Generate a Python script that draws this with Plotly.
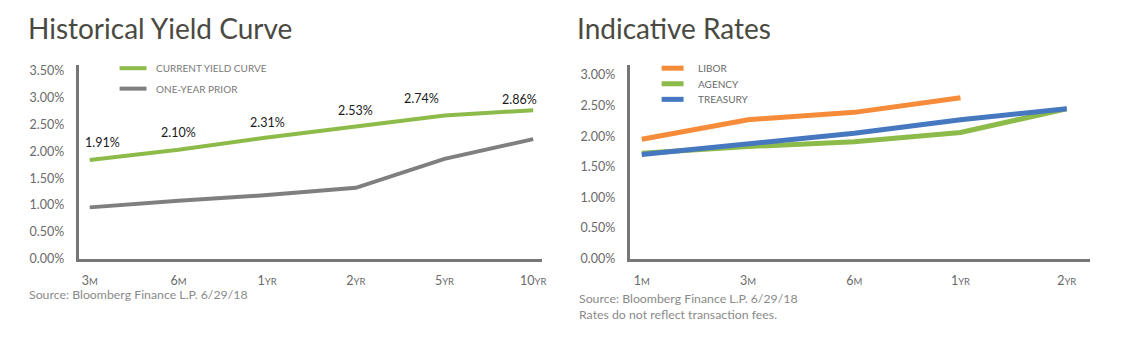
import re
import plotly.graph_objects as go

# ---------------- data ----------------
yc_categories = ["3M", "6M", "1YR", "2YR", "5YR", "10YR"]
current_curve = [1.84, 2.03, 2.26, 2.47, 2.67, 2.77]
current_labels = ["1.91%", "2.10%", "2.31%", "2.53%", "2.74%", "2.86%"]
one_year_prior = [0.955, 1.08, 1.185, 1.32, 1.86, 2.23]

ir_categories = ["1M", "3M", "6M", "1YR", "2YR"]
libor = [1.95, 2.27, 2.39, 2.63, None]
agency = [1.72, 1.83, 1.91, 2.06, 2.45]
treasury = [1.70, 1.87, 2.05, 2.27, 2.45]

left_ticks = [0, 0.5, 1.0, 1.5, 2.0, 2.5, 3.0, 3.5]
right_ticks = [0, 0.5, 1.0, 1.5, 2.0, 2.5, 3.0]

# ---------------- style ----------------
FONT = "Lato"
GREEN = "#8DBB4A"
GRAY = "#7F7F7F"
ORANGE = "#F68B3A"
BLUE = "#4678C0"
AXIS = "#767676"
TICK = "#6a6a6a"
TITLE = "#4a4a42"
SRC = "#8a8a8a"

W, H = 1126, 339


def px_x(v):
    return v / W


def px_y(v):
    return 1 - v / H


def cat_label(c):
    m = re.match(r"(\d+)(\D+)", c)
    return f"{m.group(1)}<span style='font-size:9.5px'>{m.group(2)}</span>"


def pct_label(v):
    return f"{v:.2f}%"


fig = go.Figure()

# left chart traces
fig.add_trace(go.Scatter(x=yc_categories, y=current_curve, mode="lines",
                         line=dict(color=GREEN, width=4), name="CURRENT YIELD CURVE",
                         xaxis="x", yaxis="y", showlegend=False))
fig.add_trace(go.Scatter(x=yc_categories, y=one_year_prior, mode="lines",
                         line=dict(color=GRAY, width=4), name="ONE-YEAR PRIOR",
                         xaxis="x", yaxis="y", showlegend=False))

# right chart traces
for name, vals, col in [("AGENCY", agency, GREEN), ("TREASURY", treasury, BLUE), ("LIBOR", libor, ORANGE)]:
    fig.add_trace(go.Scatter(x=ir_categories, y=vals, mode="lines",
                             line=dict(color=col, width=5), name=name,
                             xaxis="x2", yaxis="y2", showlegend=False))

# domains (pixel-derived)
y_dom = [px_y(263.5), px_y(65)]
axis_common = dict(showgrid=False, zeroline=False, showline=True, linecolor=AXIS,
                   linewidth=3, ticks="", tickfont=dict(family=FONT, size=12.5, color=TICK),
                   fixedrange=True)

fig.update_layout(
    width=W, height=H,
    margin=dict(l=0, r=0, t=0, b=0),
    paper_bgcolor="white", plot_bgcolor="white",
    xaxis=dict(domain=[px_x(79), px_x(544)], type="category", range=[-0.124, 5.1],
               tickvals=yc_categories, ticktext=[cat_label(c) for c in yc_categories],
               anchor="y", ticklabelstandoff=8, **axis_common),
    yaxis=dict(domain=y_dom, range=[0, 3.609], tickvals=left_ticks,
               ticktext=[pct_label(v) for v in left_ticks], anchor="x", ticklabelstandoff=9,
               **axis_common),
    xaxis2=dict(domain=[px_x(632), px_x(1094)], type="category", range=[-0.113, 4.22],
                tickvals=ir_categories, ticktext=[cat_label(c) for c in ir_categories],
                anchor="y2", ticklabelstandoff=8, **axis_common),
    yaxis2=dict(domain=y_dom, range=[0, 3.16], tickvals=right_ticks,
                ticktext=[pct_label(v) for v in right_ticks], anchor="x2", ticklabelstandoff=9,
                **axis_common),
    showlegend=False,
)

annotations = []
# titles
annotations.append(dict(text="Historical Yield Curve", xref="paper", yref="paper",
                        x=px_x(26), y=px_y(27), xanchor="left", yanchor="middle",
                        showarrow=False, font=dict(family=FONT, size=28, color=TITLE)))
annotations.append(dict(text="Indicative Rates", xref="paper", yref="paper",
                        x=px_x(577), y=px_y(27), xanchor="left", yanchor="middle",
                        showarrow=False, font=dict(family=FONT, size=28, color=TITLE)))
# sources
annotations.append(dict(text="Source: Bloomberg Finance L.P. 6/29/18", xref="paper", yref="paper",
                        x=px_x(27), y=px_y(300.5), xanchor="left", yanchor="middle",
                        showarrow=False, font=dict(family=FONT, size=12.3, color=SRC)))
annotations.append(dict(text="Source: Bloomberg Finance L.P. 6/29/18<br>Rates do not reflect transaction fees.",
                        xref="paper", yref="paper", align="left",
                        x=px_x(579), y=px_y(313), xanchor="left", yanchor="middle",
                        showarrow=False, font=dict(family=FONT, size=12.3, color=SRC)))

# data labels
label_shift_x = [13, 0, 0, 0, -23, -14]
label_shift_y = [17, 17, 15, 16, 17, 11]
for c, v, t, dx, dy in zip(yc_categories, current_curve, current_labels, label_shift_x, label_shift_y):
    annotations.append(dict(text=t, x=c, y=v, xref="x", yref="y", showarrow=False,
                            xshift=dx, yshift=dy, xanchor="center", yanchor="middle",
                            font=dict(family=FONT, size=12.5, color="#1a1a1a")))

# legends (manual)
shapes = []
left_legend = [("CURRENT YIELD CURVE", GREEN, 68), ("ONE-YEAR PRIOR", GRAY, 89)]
for name, col, yy in left_legend:
    shapes.append(dict(type="line", xref="paper", yref="paper", x0=px_x(120), x1=px_x(147),
                       y0=px_y(yy), y1=px_y(yy), line=dict(color=col, width=4)))
    annotations.append(dict(text=name, xref="paper", yref="paper", x=px_x(155), y=px_y(yy),
                            xanchor="left", yanchor="middle", showarrow=False,
                            font=dict(family=FONT, size=10, color="#7a7a7a")))
right_legend = [("LIBOR", ORANGE, 68), ("AGENCY", GREEN, 84), ("TREASURY", BLUE, 100)]
for name, col, yy in right_legend:
    shapes.append(dict(type="line", xref="paper", yref="paper", x0=px_x(664), x1=px_x(686),
                       y0=px_y(yy), y1=px_y(yy), line=dict(color=col, width=5)))
    annotations.append(dict(text=name, xref="paper", yref="paper", x=px_x(698), y=px_y(yy),
                            xanchor="left", yanchor="middle", showarrow=False,
                            font=dict(family=FONT, size=10, color="#6a6a6a")))

fig.update_layout(annotations=annotations, shapes=shapes)
fig.write_html("out.html", config={"displayModeBar": False})
